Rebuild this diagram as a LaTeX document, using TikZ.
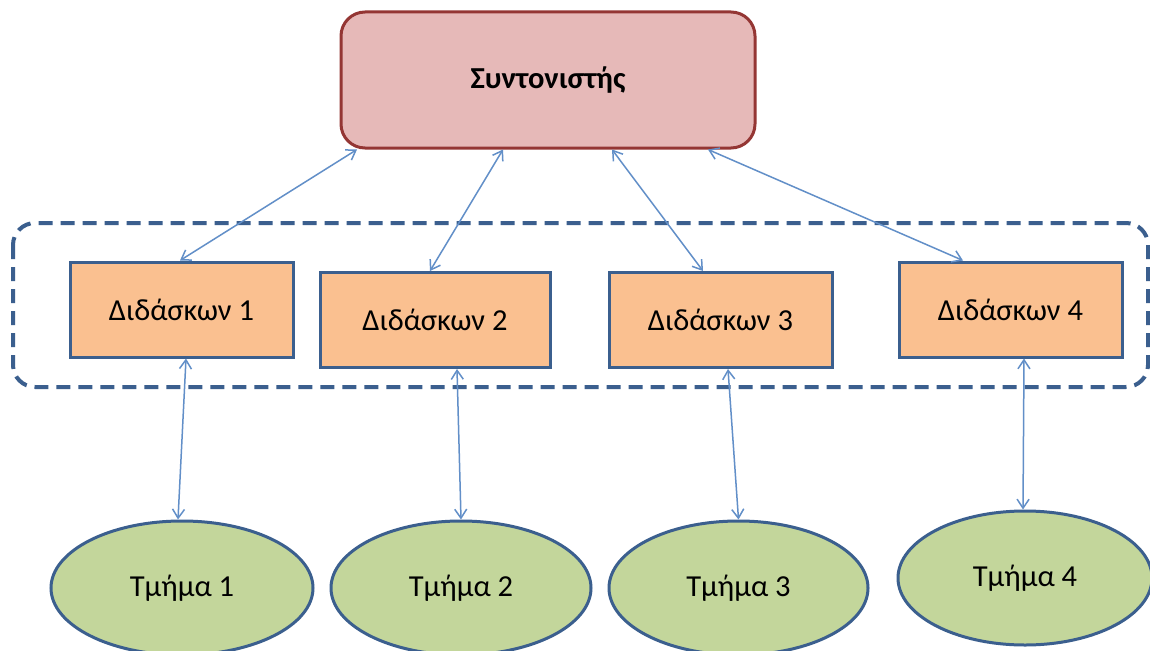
\documentclass[tikz,border=0pt]{standalone}
\usepackage{fontspec}
\setmainfont{Carlito}
\usetikzlibrary{shapes.geometric,arrows.meta}
\definecolor{topfill}{HTML}{E6B9B8}
\definecolor{topdraw}{HTML}{943634}
\definecolor{didfill}{HTML}{FAC090}
\definecolor{bluedraw}{HTML}{3B5F8E}
\definecolor{ellfill}{HTML}{C3D69B}
\definecolor{arrowc}{HTML}{628FC8}
\tikzset{
  topbox/.style={draw=topdraw,fill=topfill,line width=3pt,rounded corners=24pt,minimum width=414pt,minimum height=136pt,inner sep=0pt,font=\fontsize{30.5}{36}\selectfont\bfseries},
  didbox/.style={draw=bluedraw,fill=didfill,line width=3pt,minimum height=95pt,inner sep=0pt,font=\fontsize{30.5}{36}\selectfont},
  dept/.style={ellipse,draw=bluedraw,fill=ellfill,line width=3pt,minimum width=262pt,minimum height=134pt,inner sep=0pt,font=\fontsize{30.5}{36}\selectfont},
  link/.style={draw=arrowc,line width=1.5pt,{Straight Barb[length=9pt,width=12pt]}-{Straight Barb[length=9pt,width=12pt]}},
  group/.style={draw=bluedraw,line width=4pt,dash pattern=on 14pt off 8pt,rounded corners=22pt}
}
\begin{document}
\begin{tikzpicture}[x=1pt,y=-1pt]
\useasboundingbox (0,0) rectangle (1150,650);
\fill[white] (0,0) rectangle (1150,650);
\draw[group] (13,223) rectangle (1148,387);
\node[topbox] (top) at (548,80) {Συντονιστής};
\node[didbox,minimum width=223pt] (d1) at (181.5,309.5) {Διδάσκων 1};
\node[didbox,minimum width=230pt] (d2) at (435,320) {Διδάσκων 2};
\node[didbox,minimum width=223pt] (d3) at (720.5,320) {Διδάσκων 3};
\node[didbox,minimum width=223pt] (d4) at (1010.5,309.5) {Διδάσκων 4};
\node[dept] (t1) at (182,588) {Τμήμα 1};
\node[dept,minimum width=260pt] (t2) at (461,588) {Τμήμα 2};
\node[dept,minimum width=259pt] (t3) at (738.5,588) {Τμήμα 3};
\node[dept,minimum width=254pt] (t4) at (1025,578) {Τμήμα 4};
\draw[link] ([xshift=-191pt]top.south) -- ([xshift=-1.5pt]d1.north);
\draw[link] ([xshift=-45pt]top.south) -- ([xshift=-5pt]d2.north);
\draw[link] ([xshift=64pt]top.south) -- ([xshift=-17.5pt]d3.north);
\draw[link] ([xshift=160pt]top.south) -- ([xshift=-47.5pt]d4.north);
\draw[link] ([xshift=4.5pt]d1.south) -- ([xshift=-4pt]t1.north);
\draw[link] ([xshift=22pt]d2.south) -- ([xshift=0pt]t2.north);
\draw[link] ([xshift=7.5pt]d3.south) -- ([xshift=0pt]t3.north);
\draw[link] ([xshift=13.5pt]d4.south) -- ([xshift=-2pt]t4.north);
\end{tikzpicture}
\end{document}
